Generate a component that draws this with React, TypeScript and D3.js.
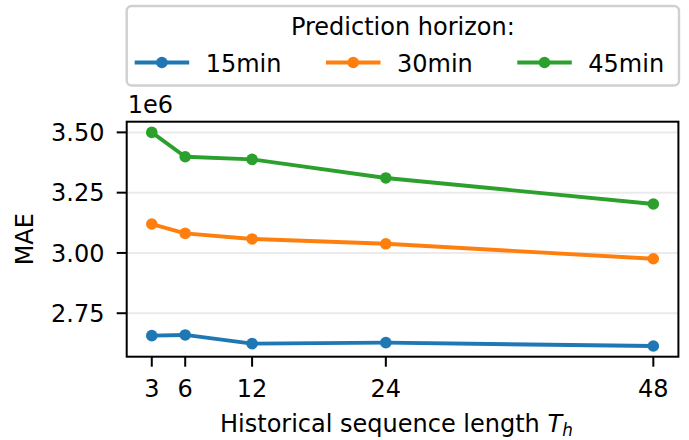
import React from 'react';
import * as d3 from 'd3';

// data
const seqLengths = [3, 6, 12, 24, 48];
const horizons = ['15min', '30min', '45min'];
const mae15 = [2.657e6, 2.660e6, 2.624e6, 2.628e6, 2.614e6];
const mae30 = [3.120e6, 3.081e6, 3.058e6, 3.038e6, 2.976e6];
const mae45 = [3.500e6, 3.399e6, 3.388e6, 3.311e6, 3.203e6];
const yTicks = [2.75e6, 3.0e6, 3.25e6, 3.5e6];
const colors = ['#1f77b4', '#ff7f0e', '#2ca02c'];

const W = 689;
const H = 440;
const FONT = 'DejaVu Sans, sans-serif';
const FS = 24;

const plot = { left: 126.7, right: 678.4, top: 121.7, bottom: 356.7 };

function App() {
    const series = [mae15, mae30, mae45];

    // matplotlib style 5% margins
    const xPad = (d3.max(seqLengths)! - d3.min(seqLengths)!) * 0.05;
    const x = d3.scaleLinear()
        .domain([d3.min(seqLengths)! - xPad, d3.max(seqLengths)! + xPad])
        .range([plot.left, plot.right]);

    const allY = series.flat();
    const yMin = d3.min(allY)!;
    const yMax = d3.max(allY)!;
    const yPad = (yMax - yMin) * 0.05;
    const y = d3.scaleLinear()
        .domain([yMin - yPad, yMax + yPad])
        .range([plot.bottom, plot.top]);

    const line = d3.line<number>()
        .x((_, i) => x(seqLengths[i]))
        .y(d => y(d));

    const legend = { left: plot.left, right: plot.right + 0.6, top: 6, bottom: 85.5 };
    const colStep = 191.3;

    return (
        <svg width={W} height={H} style={{ position: 'absolute', left: 0, top: 0, background: 'white' }}
            fontFamily={FONT} fontSize={FS}>
            {/* grid */}
            {yTicks.map(t => (
                <line key={'g' + t} x1={plot.left} x2={plot.right} y1={y(t)} y2={y(t)}
                    stroke="#ebebeb" strokeWidth={2} />
            ))}

            {/* series */}
            {series.map((s, si) => (
                <g key={horizons[si]}>
                    <path d={line(s)!} fill="none" stroke={colors[si]} strokeWidth={3.9}
                        strokeLinejoin="round" strokeLinecap="round" />
                    {s.map((v, i) => (
                        <circle key={i} cx={x(seqLengths[i])} cy={y(v)} r={5.8} fill={colors[si]} />
                    ))}
                </g>
            ))}

            {/* frame */}
            <rect x={plot.left} y={plot.top} width={plot.right - plot.left} height={plot.bottom - plot.top}
                fill="none" stroke="black" strokeWidth={2} />

            {/* y axis */}
            {yTicks.map(t => (
                <g key={'y' + t}>
                    <line x1={plot.left - 10} x2={plot.left} y1={y(t)} y2={y(t)} stroke="black" strokeWidth={2} />
                    <text x={104.5} y={y(t)} dy="0.36em" textAnchor="end">{(t / 1e6).toFixed(2)}</text>
                </g>
            ))}
            <text x={plot.left + 1} y={112.7}>1e6</text>
            <text transform={`translate(33,${(plot.top + plot.bottom) / 2}) rotate(-90)`} textAnchor="middle">MAE</text>

            {/* x axis */}
            {seqLengths.map(t => (
                <g key={'x' + t}>
                    <line x1={x(t)} x2={x(t)} y1={plot.bottom} y2={plot.bottom + 10} stroke="black" strokeWidth={2} />
                    <text x={x(t)} y={397.3} textAnchor="middle">{t}</text>
                </g>
            ))}
            <text x={220} y={431.7}>
                Historical sequence length <tspan fontStyle="italic">T</tspan>
                <tspan fontStyle="italic" fontSize={FS * 0.7} dy={4}>h</tspan>
            </text>

            {/* legend */}
            <rect x={legend.left} y={legend.top} width={legend.right - legend.left} height={legend.bottom - legend.top}
                rx={5} fill="white" stroke="#d0d0d0" strokeWidth={2.4} />
            <text x={(legend.left + legend.right) / 2} y={35} textAnchor="middle">Prediction horizon:</text>
            {horizons.map((h, i) => {
                const hx = 134.7 + i * colStep;
                return (
                    <g key={h}>
                        <line x1={hx} x2={hx + 54.5} y1={62.5} y2={62.5} stroke={colors[i]} strokeWidth={3.9} />
                        <circle cx={hx + 27.2} cy={62.5} r={5.8} fill={colors[i]} />
                        <text x={hx + 71} y={71.7}>{h}</text>
                    </g>
                );
            })}
        </svg>
    );
}

export default App;
